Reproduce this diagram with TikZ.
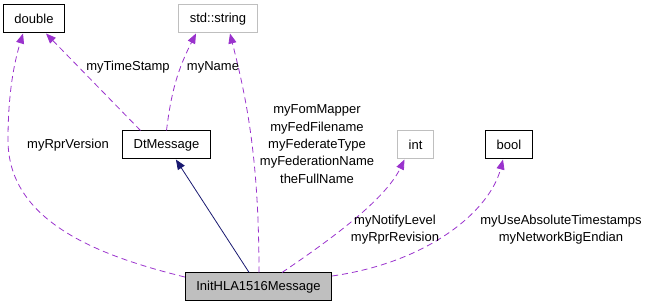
\documentclass[tikz,border=0pt]{standalone}
\usepackage{fontspec}
\setmainfont{Liberation Sans}
\usetikzlibrary{arrows.meta,positioning}
\definecolor{cuse}{HTML}{9A32CD}
\definecolor{cinh}{HTML}{191970}
\definecolor{cgrey}{HTML}{BFBFBF}
\tikzset{
  cbox/.style={draw, inner xsep=11pt, inner ysep=0pt, minimum height=28pt,
               line width=1pt, font=\fontsize{13}{17}\selectfont},
  cext/.style={cbox, draw=cgrey},
  cmain/.style={cbox, fill=cgrey},
  lbl/.style={align=center, inner sep=0pt, font=\fontsize{13}{17.3}\selectfont},
  uses/.style={-{Triangle[length=10pt,width=8pt]}, cuse, line width=0.8pt,
               dash pattern=on 6pt off 4pt},
  inh/.style={-{Triangle[length=10pt,width=8pt]}, cinh, line width=0.8pt},
}
\begin{document}
\begin{tikzpicture}[x=1pt, y=-1pt]
  \useasboundingbox (0,0) rectangle (651,307);
  \node[cbox] (dbl) at (34,19) {double};
  \node[cext] (str) at (218,19) {std::string};
  \node[cbox] (dtm) at (166.5,145) {DtMessage};
  \node[cext] (nint) at (415.5,145) {int};
  \node[cbox] (nbool) at (509,145) {bool};
  \node[cmain] (init) at (258.5,287) {InitHLA1516Message};
  \draw[inh] (init) -- (dtm);
  \draw[uses] ([xshift=-26pt]dtm.north) -- ([xshift=12pt]dbl.south);
  \draw[uses] (dtm.north) to[bend left=10] ([xshift=-22pt]str.south);
  \draw[uses] ([yshift=10pt]init.west) .. controls (95,255) and (8,220) .. (8,140)
    .. controls (8,90) and (15,60) .. ([xshift=-11pt]dbl.south);
  \draw[uses] ([xshift=0.5pt]init.north) .. controls (259,153) and (245,93)
    .. ([xshift=12pt]str.south);
  \draw[uses] ([xshift=23.5pt]init.north) .. controls (330,240) and (385,200)
    .. ([xshift=-11pt]nint.south);
  \draw[uses] ([yshift=11pt]init.east) .. controls (430,262) and (490,210)
    .. ([xshift=-6pt]nbool.south);
  \node[lbl] (lver) at (68,145) {myRprVersion};
  \node[lbl] (ltime) at (128,67) {myTimeStamp};
  \node[lbl] (lname) at (213,67) {myName};
  \node[lbl] (lstr) at (317,144) {myFomMapper\\myFedFilename\\myFederateType\\myFederationName\\theFullName};
  \node[lbl] (lint) at (395,229.5) {myNotifyLevel\\myRprRevision};
  \node[lbl] (lbool) at (561,229.5) {myUseAbsoluteTimestamps\\myNetworkBigEndian};
\end{tikzpicture}
\end{document}
